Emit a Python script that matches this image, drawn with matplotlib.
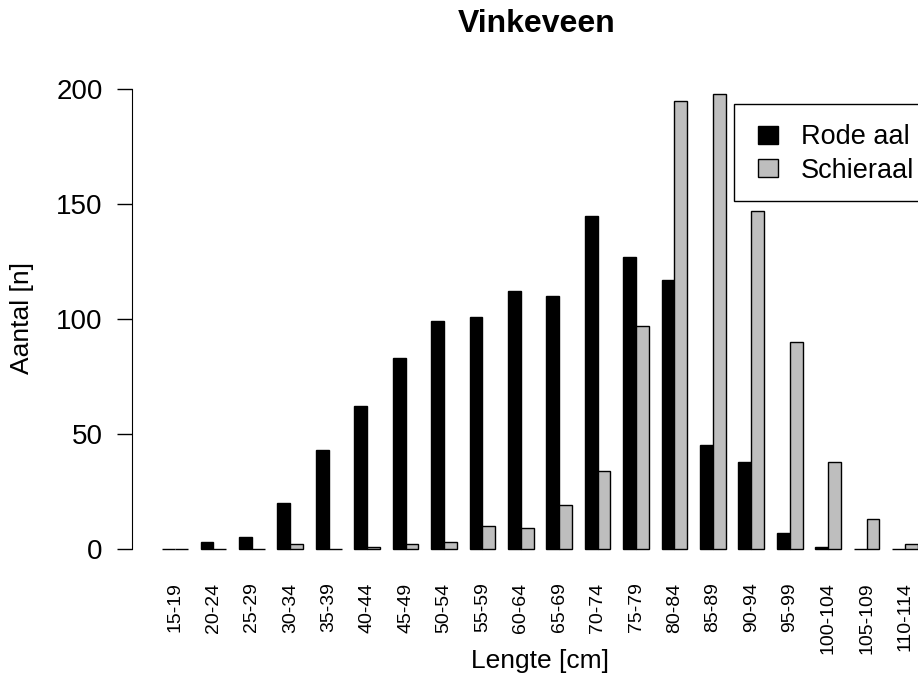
import numpy as np
import matplotlib
matplotlib.use('Agg')
import matplotlib.pyplot as plt
from matplotlib.patches import Patch, Rectangle

plt.rcParams['font.family'] = ['Liberation Sans', 'DejaVu Sans']

length_classes = ['15-19', '20-24', '25-29', '30-34', '35-39', '40-44', '45-49',
                  '50-54', '55-59', '60-64', '65-69', '70-74', '75-79', '80-84',
                  '85-89', '90-94', '95-99', '100-104', '105-109', '110-114']
rode_aal = [0, 3, 5, 20, 43, 62, 83, 99, 101, 112, 110, 145, 127, 117,
            45, 38, 7, 1, 0, 0]
schieraal = [0, 0, 0, 2, 0, 1, 2, 3, 10, 9, 19, 34, 97, 195,
             198, 147, 90, 38, 13, 2]

W, H = 918, 680
fig = plt.figure(figsize=(W / 100, H / 100), dpi=100)


def fx(px):
    return px / W


def fy(py):
    return 1 - py / H


# plot region in pixels (R-style barplot, region runs past the right edge)
left, right, bottom, top = 132, 948, 567.2, 75.4
ax = fig.add_axes([fx(left), fy(bottom), (right - left) / W, (bottom - top) / H])

n = len(length_classes)
group_start = 1 + 3 * np.arange(n)
ax.bar(group_start, rode_aal, width=1, align='edge', color='black',
       edgecolor='black', linewidth=1)
ax.bar(group_start + 1, schieraal, width=1, align='edge', color='#BEBEBE',
       edgecolor='black', linewidth=1)

ax.set_xlim(-1.36, 62.36)
ax.set_ylim(-7.92, 205.92)

for s in ['top', 'right', 'bottom']:
    ax.spines[s].set_visible(False)
ax.spines['left'].set_bounds(0, 200)

ax.set_yticks([0, 50, 100, 150, 200])
ax.tick_params(axis='y', labelsize=20, length=11, width=1, pad=10)
ax.set_xticks(group_start + 1)
ax.set_xticklabels(length_classes, rotation=90, fontsize=14)
ax.tick_params(axis='x', length=0, pad=11)

fig.text(fx(22), fy(318), 'Aantal [n]', fontsize=19, rotation=90,
         ha='center', va='center')
fig.text(fx(540), fy(668), 'Lengte [cm]', fontsize=19, ha='center', va='baseline')
fig.text(fx(537), fy(32), 'Vinkeveen', fontsize=23, fontweight='bold',
         ha='center', va='baseline')

# legend box, open on the right like the original
fig.patches.append(Rectangle((fx(734), fy(201)), fx(960) - fx(734), fy(104) - fy(201),
                             transform=fig.transFigure, facecolor='white',
                             edgecolor='black', linewidth=1, zorder=3))
handles = [Patch(facecolor='black', edgecolor='black'),
           Patch(facecolor='#BEBEBE', edgecolor='black')]
leg = fig.legend(handles, ['Rode aal', 'Schieraal'], loc='upper left',
                 bbox_to_anchor=(fx(758), fy(124.5)), fontsize=19.5,
                 frameon=False, borderaxespad=0, borderpad=0,
                 handlelength=0.74, handleheight=0.63, handletextpad=0.85,
                 labelspacing=0.27)
leg.set_zorder(4)

fig.savefig('out.png', dpi=100)
